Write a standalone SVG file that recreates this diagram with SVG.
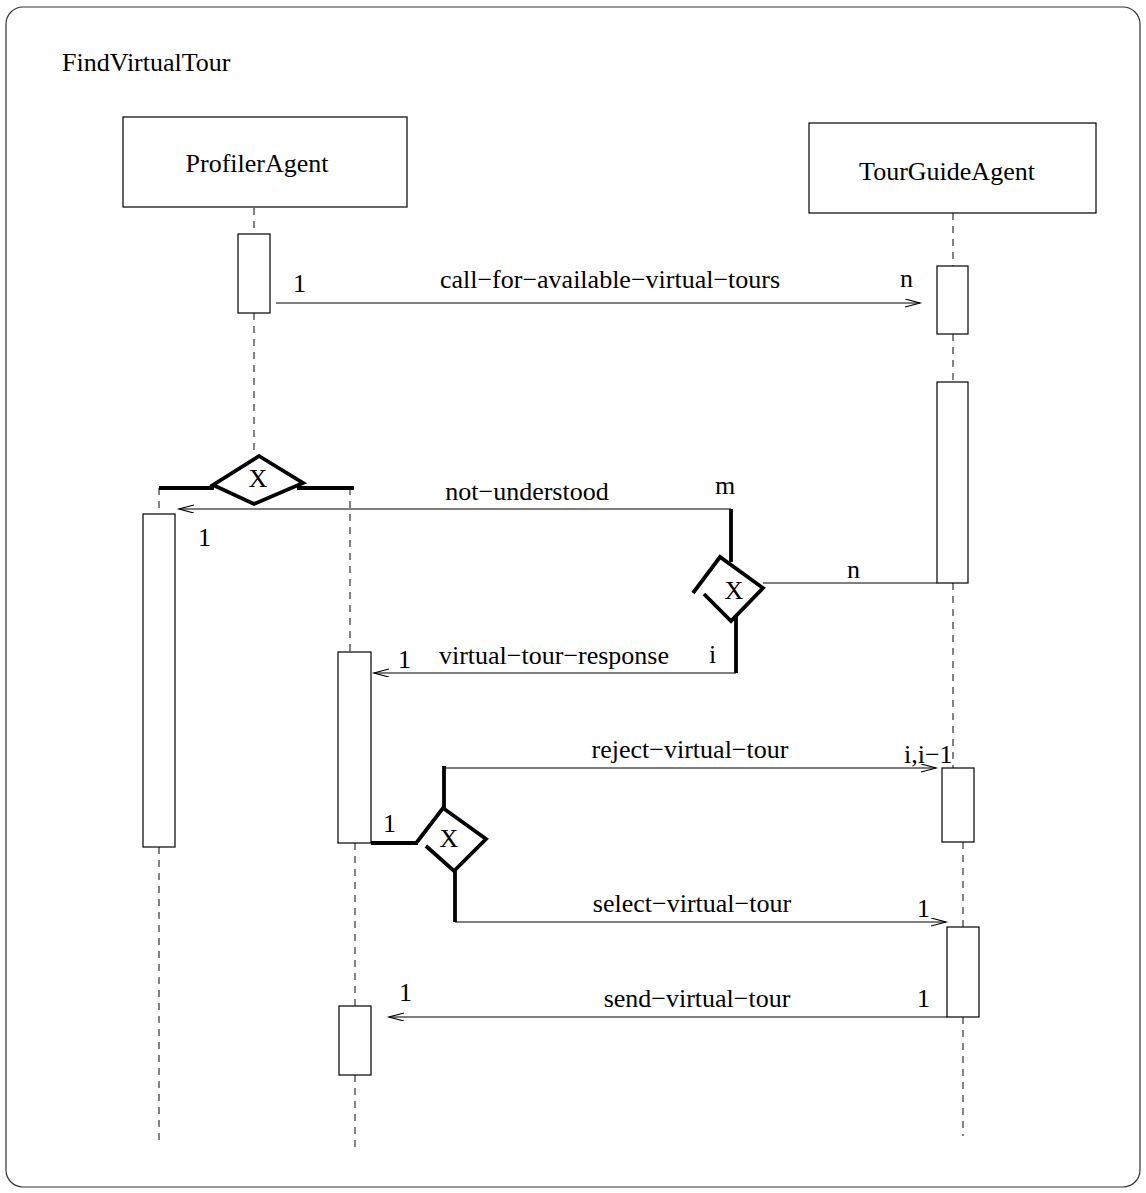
<svg xmlns="http://www.w3.org/2000/svg" width="1146" height="1193" viewBox="0 0 1146 1193">
<defs>
<style>
text{font-family:"Liberation Serif","Times New Roman",serif;font-size:26px;fill:#000}
.box{fill:#fff;stroke:#000;stroke-width:1.2}
.life{stroke:#333;stroke-width:1.2;stroke-dasharray:7 6;fill:none}
.msg{stroke:#000;stroke-width:1.2;fill:none}
.thick{stroke:#000;stroke-width:3.8;fill:none}
.dia{stroke:#000;stroke-width:3.8;fill:#fff;stroke-linejoin:miter}
.m{text-anchor:middle}
</style>
<marker id="arr" markerUnits="userSpaceOnUse" markerWidth="18" markerHeight="10" refX="15" refY="4" orient="auto">
<path d="M0,0 L15,4 L0,8" fill="none" stroke="#000" stroke-width="1.2"/>
</marker>
</defs>
<rect x="6" y="7" width="1134" height="1180" rx="17" ry="17" fill="#fff" stroke="#333" stroke-width="1.2"/>
<text x="62" y="71">FindVirtualTour</text>

<g id="lifelines">
<path class="life" d="M254,208 V234 M254,313 V456"/>
<path class="life" d="M159,488 V514 M159,847 V1140"/>
<path class="life" d="M350,488 V652 M355,843 V1006 M355,1075 V1152"/>
<path class="life" d="M953,213 V266 M953,334 V382 M953,583 V768 M963,842 V927 M963,1017 V1136"/>
</g>

<g id="ProfilerAgent">
<rect class="box" x="123" y="117" width="284" height="90"/>
<text class="m" x="257" y="172">ProfilerAgent</text>
</g>
<g id="TourGuideAgent">
<rect class="box" x="809" y="123" width="287" height="90"/>
<text class="m" x="947" y="180">TourGuideAgent</text>
</g>

<g id="activations">
<rect class="box" x="238" y="234" width="32" height="79"/>
<rect class="box" x="937" y="266" width="31" height="68"/>
<rect class="box" x="937" y="382" width="31" height="201"/>
<rect class="box" x="942" y="768" width="32" height="74"/>
<rect class="box" x="947" y="927" width="32" height="90"/>
<rect class="box" x="143" y="514" width="32" height="333"/>
<rect class="box" x="338" y="652" width="33" height="191"/>
<rect class="box" x="339" y="1006" width="32" height="69"/>
</g>

<g id="connectors">
<line class="msg" x1="276" y1="303" x2="920" y2="303" marker-end="url(#arr)"/>
<line class="msg" x1="731" y1="509" x2="179" y2="509" marker-end="url(#arr)"/>
<line class="msg" x1="736" y1="673" x2="374" y2="673" marker-end="url(#arr)"/>
<line class="msg" x1="444" y1="768" x2="936" y2="768" marker-end="url(#arr)"/>
<line class="msg" x1="455" y1="922" x2="946" y2="922" marker-end="url(#arr)"/>
<line class="msg" x1="947" y1="1017" x2="389" y2="1017" marker-end="url(#arr)"/>
<line class="msg" x1="763" y1="583" x2="937" y2="583"/>
<path class="thick" d="M159,488 H214 M297,488 H354"/>
<path class="thick" d="M731,509 V562"/>
<path class="thick" d="M736,608 V673"/>
<path class="thick" d="M444,766 V809"/>
<path class="thick" d="M455,870 V922"/>
<path class="thick" d="M371,843 H418"/>
</g>

<g id="decision1">
<polygon class="dia" points="259,456 303,483 254,504 213,485"/>
<text class="m" x="258" y="487">X</text>
</g>
<g id="decision2">
<path class="dia" d="M693,593 L720,557 L763,588 L731,621 L704,594" fill="none"/>
<text class="m" x="734" y="599">X</text>
</g>
<g id="decision3">
<path class="dia" d="M417,842 L443,808 L486,839 L454,871 L426,846" fill="none"/>
<text class="m" x="449" y="847">X</text>
</g>

<g id="labels">
<text x="293" y="292">1</text>
<text class="m" x="610" y="288">call−for−available−virtual−tours</text>
<text x="900" y="287">n</text>
<text class="m" x="527" y="500">not−understood</text>
<text x="715" y="494">m</text>
<text x="198" y="546">1</text>
<text x="847" y="578">n</text>
<text x="709" y="663">i</text>
<text class="m" x="554" y="664">virtual−tour−response</text>
<text x="398" y="668">1</text>
<text class="m" x="690" y="758">reject−virtual−tour</text>
<text x="904" y="763">i,i−1</text>
<text x="383" y="832">1</text>
<text class="m" x="692" y="912">select−virtual−tour</text>
<text x="917" y="917">1</text>
<text class="m" x="697" y="1007">send−virtual−tour</text>
<text x="917" y="1007">1</text>
<text x="399" y="1001">1</text>
</g>
</svg>
